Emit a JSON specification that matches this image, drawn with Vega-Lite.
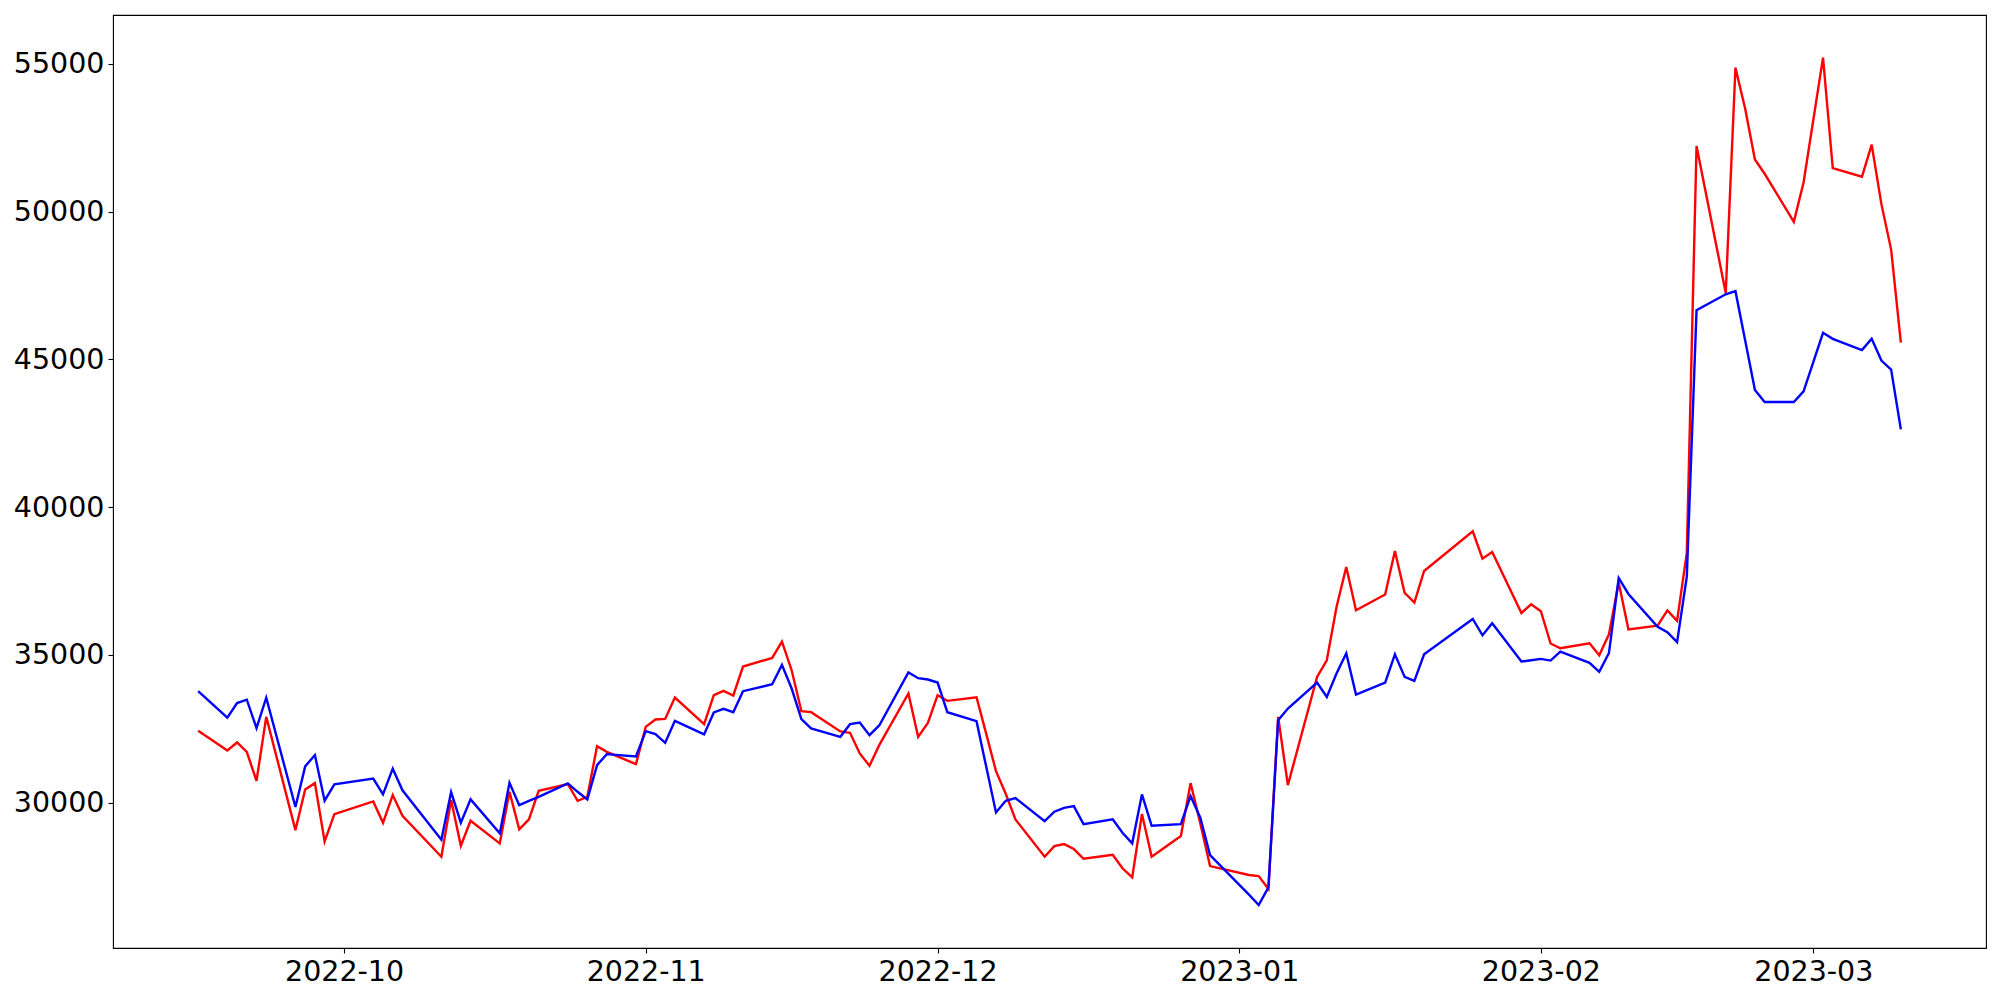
{
  "$schema": "https://vega.github.io/schema/vega-lite/v6.json",
  "width": 1873,
  "height": 933,
  "autosize": {"type": "none"},
  "padding": {"left": 113, "top": 15, "right": 14, "bottom": 52},
  "background": "white",
  "config": {
    "view": {"stroke": "black", "strokeWidth": 1.1},
    "axis": {
      "domain": false,
      "grid": false,
      "ticks": true,
      "tickSize": 5,
      "tickColor": "black",
      "tickWidth": 1.1,
      "labelFont": "DejaVu Sans",
      "labelFontSize": 28.5,
      "labelColor": "black",
      "labelPadding": 4,
      "labelFlush": false,
      "labelOverlap": false,
      "title": null
    }
  },
  "data": {
    "values": [
      {"date": "2022-09-16", "red": 32427, "blue": 33772},
      {"date": "2022-09-19", "red": 31765, "blue": 32873},
      {"date": "2022-09-20", "red": 32035, "blue": 33368},
      {"date": "2022-09-21", "red": 31717, "blue": 33481},
      {"date": "2022-09-22", "red": 30737, "blue": 32521},
      {"date": "2022-09-23", "red": 32901, "blue": 33550},
      {"date": "2022-09-26", "red": 29070, "blue": 29850},
      {"date": "2022-09-27", "red": 30446, "blue": 31226},
      {"date": "2022-09-28", "red": 30659, "blue": 31609},
      {"date": "2022-09-29", "red": 28688, "blue": 30066},
      {"date": "2022-09-30", "red": 29611, "blue": 30617},
      {"date": "2022-10-04", "red": 30040, "blue": 30810},
      {"date": "2022-10-05", "red": 29317, "blue": 30279},
      {"date": "2022-10-06", "red": 30254, "blue": 31148},
      {"date": "2022-10-07", "red": 29554, "blue": 30414},
      {"date": "2022-10-11", "red": 28168, "blue": 28747},
      {"date": "2022-10-12", "red": 30085, "blue": 30356},
      {"date": "2022-10-13", "red": 28540, "blue": 29321},
      {"date": "2022-10-14", "red": 29385, "blue": 30110},
      {"date": "2022-10-17", "red": 28621, "blue": 28959},
      {"date": "2022-10-18", "red": 30365, "blue": 30669},
      {"date": "2022-10-19", "red": 29093, "blue": 29915},
      {"date": "2022-10-20", "red": 29431, "blue": 30060},
      {"date": "2022-10-21", "red": 30399, "blue": 30196},
      {"date": "2022-10-24", "red": 30625, "blue": 30649},
      {"date": "2022-10-25", "red": 30060, "blue": 30365},
      {"date": "2022-10-26", "red": 30196, "blue": 30107},
      {"date": "2022-10-27", "red": 31910, "blue": 31268},
      {"date": "2022-10-28", "red": 31717, "blue": 31640},
      {"date": "2022-10-31", "red": 31301, "blue": 31561},
      {"date": "2022-11-01", "red": 32563, "blue": 32417},
      {"date": "2022-11-02", "red": 32812, "blue": 32316},
      {"date": "2022-11-03", "red": 32833, "blue": 32022},
      {"date": "2022-11-04", "red": 33556, "blue": 32765},
      {"date": "2022-11-07", "red": 32654, "blue": 32306},
      {"date": "2022-11-08", "red": 33634, "blue": 33050},
      {"date": "2022-11-09", "red": 33779, "blue": 33172},
      {"date": "2022-11-10", "red": 33624, "blue": 33060},
      {"date": "2022-11-11", "red": 34605, "blue": 33770},
      {"date": "2022-11-14", "red": 34895, "blue": 34006},
      {"date": "2022-11-15", "red": 35450, "blue": 34659},
      {"date": "2022-11-16", "red": 34479, "blue": 33860},
      {"date": "2022-11-17", "red": 33094, "blue": 32823},
      {"date": "2022-11-18", "red": 33060, "blue": 32508},
      {"date": "2022-11-21", "red": 32407, "blue": 32225},
      {"date": "2022-11-22", "red": 32360, "blue": 32654},
      {"date": "2022-11-23", "red": 31663, "blue": 32711},
      {"date": "2022-11-24", "red": 31245, "blue": 32282},
      {"date": "2022-11-25", "red": 31944, "blue": 32610},
      {"date": "2022-11-28", "red": 33692, "blue": 34402},
      {"date": "2022-11-29", "red": 32225, "blue": 34209},
      {"date": "2022-11-30", "red": 32698, "blue": 34165},
      {"date": "2022-12-01", "red": 33634, "blue": 34063},
      {"date": "2022-12-02", "red": 33442, "blue": 33060},
      {"date": "2022-12-05", "red": 33566, "blue": 32755},
      {"date": "2022-12-06", "red": 32326, "blue": 31210},
      {"date": "2022-12-07", "red": 31065, "blue": 29668},
      {"date": "2022-12-08", "red": 30298, "blue": 30062},
      {"date": "2022-12-09", "red": 29431, "blue": 30152},
      {"date": "2022-12-12", "red": 28168, "blue": 29374},
      {"date": "2022-12-13", "red": 28529, "blue": 29690},
      {"date": "2022-12-14", "red": 28597, "blue": 29824},
      {"date": "2022-12-15", "red": 28428, "blue": 29882},
      {"date": "2022-12-16", "red": 28100, "blue": 29273},
      {"date": "2022-12-19", "red": 28235, "blue": 29432},
      {"date": "2022-12-20", "red": 27776, "blue": 28979},
      {"date": "2022-12-21", "red": 27471, "blue": 28621},
      {"date": "2022-12-22", "red": 29611, "blue": 30277},
      {"date": "2022-12-23", "red": 28168, "blue": 29216},
      {"date": "2022-12-26", "red": 28867, "blue": 29273},
      {"date": "2022-12-27", "red": 30660, "blue": 30220},
      {"date": "2022-12-28", "red": 29290, "blue": 29490},
      {"date": "2022-12-29", "red": 27853, "blue": 28225},
      {"date": "2023-01-02", "red": 27549, "blue": 26883},
      {"date": "2023-01-03", "red": 27515, "blue": 26535},
      {"date": "2023-01-04", "red": 27080, "blue": 27130},
      {"date": "2023-01-05", "red": 32901, "blue": 32789},
      {"date": "2023-01-06", "red": 30592, "blue": 33184},
      {"date": "2023-01-09", "red": 34253, "blue": 34063},
      {"date": "2023-01-10", "red": 34817, "blue": 33577},
      {"date": "2023-01-11", "red": 36619, "blue": 34367},
      {"date": "2023-01-12", "red": 37971, "blue": 35054},
      {"date": "2023-01-13", "red": 36508, "blue": 33657},
      {"date": "2023-01-16", "red": 37039, "blue": 34063},
      {"date": "2023-01-17", "red": 38513, "blue": 35020},
      {"date": "2023-01-18", "red": 37093, "blue": 34253},
      {"date": "2023-01-19", "red": 36768, "blue": 34118},
      {"date": "2023-01-20", "red": 37836, "blue": 35020},
      {"date": "2023-01-25", "red": 39178, "blue": 36214},
      {"date": "2023-01-26", "red": 38255, "blue": 35662},
      {"date": "2023-01-27", "red": 38481, "blue": 36068},
      {"date": "2023-01-30", "red": 36416, "blue": 34773},
      {"date": "2023-01-31", "red": 36710, "blue": 34817},
      {"date": "2023-02-01", "red": 36474, "blue": 34862},
      {"date": "2023-02-02", "red": 35383, "blue": 34806},
      {"date": "2023-02-03", "red": 35223, "blue": 35111},
      {"date": "2023-02-06", "red": 35392, "blue": 34727},
      {"date": "2023-02-07", "red": 34986, "blue": 34422},
      {"date": "2023-02-08", "red": 35696, "blue": 35064},
      {"date": "2023-02-09", "red": 37450, "blue": 37600},
      {"date": "2023-02-10", "red": 35856, "blue": 37060},
      {"date": "2023-02-13", "red": 35987, "blue": 35950},
      {"date": "2023-02-14", "red": 36501, "blue": 35767},
      {"date": "2023-02-15", "red": 36149, "blue": 35429},
      {"date": "2023-02-16", "red": 38451, "blue": 37643},
      {"date": "2023-02-17", "red": 52218, "blue": 46660},
      {"date": "2023-02-20", "red": 47245, "blue": 47200},
      {"date": "2023-02-21", "red": 54868, "blue": 47306},
      {"date": "2023-02-22", "red": 53475, "blue": 45636},
      {"date": "2023-02-23", "red": 51761, "blue": 43962},
      {"date": "2023-02-24", "red": 51278, "blue": 43553},
      {"date": "2023-02-27", "red": 49652, "blue": 43553},
      {"date": "2023-02-28", "red": 50984, "blue": 43918},
      {"date": "2023-03-02", "red": 55206, "blue": 45896},
      {"date": "2023-03-03", "red": 51467, "blue": 45693},
      {"date": "2023-03-06", "red": 51177, "blue": 45310},
      {"date": "2023-03-07", "red": 52262, "blue": 45693},
      {"date": "2023-03-08", "red": 50250, "blue": 44959},
      {"date": "2023-03-09", "red": 48712, "blue": 44652},
      {"date": "2023-03-10", "red": 45561, "blue": 42627}
    ]
  },
  "encoding": {
    "x": {
      "field": "date",
      "type": "temporal",
      "scale": {
        "type": "utc",
        "domain": [
          {"year": 2022, "month": 9, "date": 7, "hours": 6, "utc": true},
          {"year": 2023, "month": 3, "date": 18, "hours": 18, "utc": true}
        ]
      },
      "axis": {
        "values": [
          {"year": 2022, "month": 10, "date": 1, "utc": true},
          {"year": 2022, "month": 11, "date": 1, "utc": true},
          {"year": 2022, "month": 12, "date": 1, "utc": true},
          {"year": 2023, "month": 1, "date": 1, "utc": true},
          {"year": 2023, "month": 2, "date": 1, "utc": true},
          {"year": 2023, "month": 3, "date": 1, "utc": true}
        ],
        "labelExpr": "utcFormat(datum.value, '%Y-%m')",
        "title": null
      }
    }
  },
  "layer": [
    {
      "mark": {"type": "line", "color": "#ff0000", "strokeWidth": 2.4},
      "encoding": {
        "y": {
          "field": "red",
          "type": "quantitative",
          "scale": {"domain": [25080, 56650], "nice": false, "zero": false},
          "axis": {
            "values": [30000, 35000, 40000, 45000, 50000, 55000],
            "labelExpr": "format(datum.value, 'd')",
            "title": null
          }
        }
      }
    },
    {
      "mark": {"type": "line", "color": "#0000ff", "strokeWidth": 2.4},
      "encoding": {
        "y": {
          "field": "blue",
          "type": "quantitative",
          "scale": {"domain": [25080, 56650], "nice": false, "zero": false},
          "axis": {
            "values": [30000, 35000, 40000, 45000, 50000, 55000],
            "labelExpr": "format(datum.value, 'd')",
            "title": null
          }
        }
      }
    }
  ]
}
